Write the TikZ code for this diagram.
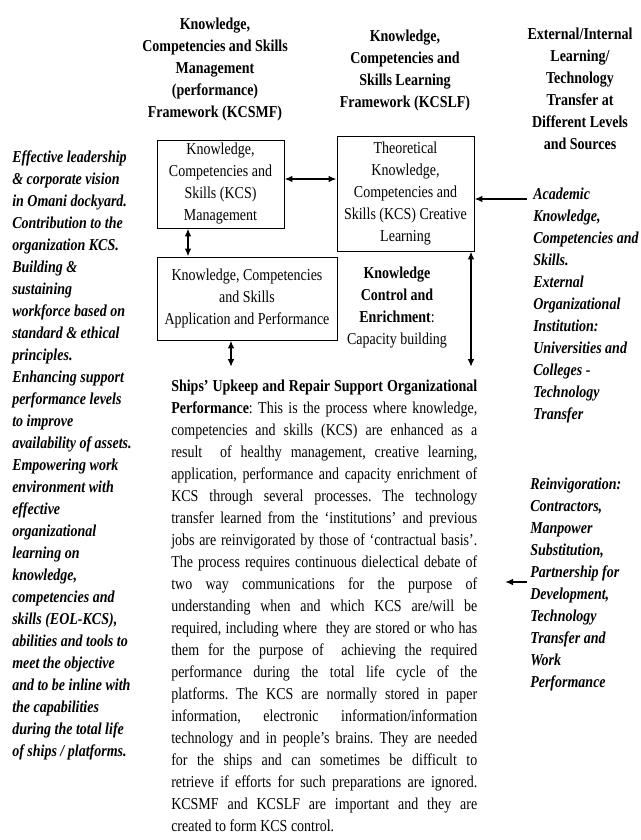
\documentclass[tikz,border=0pt]{standalone}
\usepackage{fontspec}
\setmainfont[FakeStretch=0.84]{Liberation Serif}
\usetikzlibrary{arrows.meta}
\newcommand\jl[1]{\hbox to\hsize{#1}}
\frenchspacing
\begin{document}
\begin{tikzpicture}[x=0.75pt,y=-0.75pt,
  base/.style={font=\fontsize{12.5}{16.5}\selectfont, inner sep=0pt},
  hd/.style={base, font=\fontsize{12.5}{16.5}\selectfont\bfseries, align=center, anchor=north},
  side/.style={base, font=\fontsize{12.5}{16.5}\selectfont\bfseries\itshape, align=left, anchor=north west},
  box/.style={base, draw, line width=0.7pt, align=center},
  dbl/.style={{Latex[length=6pt,width=5pt]}-{Latex[length=6pt,width=5pt]}, line width=1.3pt},
  sgl/.style={-{Latex[length=6pt,width=5pt]}, line width=1.3pt}
]
\fill[white] (0,0) rectangle (640,840);
\useasboundingbox (0,0) rectangle (640,840);

% headings
\node[hd] (h1) at (215,18) {Knowledge,\\Competencies and Skills\\Management\\(performance)\\Framework (KCSMF)};
\node[hd] (h2) at (405,30) {Knowledge,\\Competencies and\\Skills Learning\\Framework (KCSLF)};
\node[hd] (h3) at (580,28) {External/Internal\\Learning/\\Technology\\Transfer at\\Different Levels\\and Sources};

% left text
\node[side] (left) at (12,150) {Effective leadership\\
\& corporate vision\\
in Omani dockyard.\\
Contribution to the\\
organization KCS.\\
Building \&\\
sustaining\\
workforce based on\\
standard \& ethical\\
principles.\\
Enhancing support\\
performance levels\\
to improve\\
availability of assets.\\
Empowering work\\
environment with\\
effective\\
organizational\\
learning on\\
knowledge,\\
competencies and\\
skills (EOL-KCS),\\
abilities and tools to\\
meet the objective\\
and to be inline with\\
the capabilities\\
during the total life\\
of ships / platforms.};

% right texts
\node[side] (acad) at (533,188) {Academic\\
Knowledge,\\
Competencies and\\
Skills.\\
External\\
Organizational\\
Institution:\\
Universities and\\
Colleges -\\
Technology\\
Transfer};
\node[side] (reinv) at (530,478) {Reinvigoration:\\
Contractors,\\
Manpower\\
Substitution,\\
Partnership for\\
Development,\\
Technology\\
Transfer and\\
Work\\
Performance};

% boxes
\node[box, minimum width=127*0.75pt, minimum height=88*0.75pt] (box1) at (220.5,184)
  {Knowledge,\\Competencies and\\Skills (KCS)\\Management};
\node[box, minimum width=137*0.75pt, minimum height=115*0.75pt] (box3) at (405.5,193.5)
  {Theoretical\\Knowledge,\\Competencies and\\Skills (KCS) Creative\\Learning};
\node[box, minimum width=180*0.75pt, minimum height=83*0.75pt] (box2) at (247,298.5)
  {Knowledge, Competencies\\and Skills\\Application and Performance};

% knowledge control label
\node[base, align=center, anchor=north] (kc) at (397,267)
  {\textbf{Knowledge}\\\textbf{Control and}\\\textbf{Enrichment}:\\Capacity building};

% body paragraph
\node[base, anchor=north west] (body) at (171,380) {\vbox{\hsize=229.5pt\baselineskip=16.5pt
\jl{\textbf{Ships’ Upkeep and Repair Support Organizational}}
\jl{\textbf{Performance}: This is the process where knowledge,}
\jl{competencies and skills (KCS) are enhanced as a}
\jl{result \ of healthy management, creative learning,}
\jl{application, performance and capacity enrichment of}
\jl{KCS through several processes. The technology}
\jl{transfer learned from the ‘institutions’ and previous}
\jl{jobs are reinvigorated by those of ‘contractual basis’.}
\jl{The process requires continuous dielectical debate of}
\jl{two way communications for the purpose of}
\jl{understanding when and which KCS are/will be}
\jl{required, including where \ they are stored or who has}
\jl{them for the purpose of \ achieving the required}
\jl{performance during the total life cycle of the}
\jl{platforms. The KCS are normally stored in paper}
\jl{information, electronic information/information}
\jl{technology and in people’s brains. They are needed}
\jl{for the ships and can sometimes be difficult to}
\jl{retrieve if efforts for such preparations are ignored.}
\jl{KCSMF and KCSLF are important and they are}
\hbox{created to form KCS control.}}};

% connectors
\coordinate (a1y) at (0,179);
\draw[dbl] (box1.east |- a1y) -- (box3.west |- a1y);
\coordinate (a2x) at (188,0);
\draw[dbl] (box1.south -| a2x) -- (box2.north -| a2x);
\coordinate (a3e) at (231,367);
\draw[dbl] (box2.south -| a3e) -- (a3e);
\coordinate (a4e) at (471,367);
\draw[dbl] (box3.south -| a4e) -- (a4e);
\coordinate (a5s) at (527,199);
\draw[sgl] (a5s) -- (a5s -| box3.east);
\coordinate (a6s) at (527,582);
\coordinate (a6e) at (505,582);
\draw[sgl] (a6s) -- (a6e);
\end{tikzpicture}
\end{document}
